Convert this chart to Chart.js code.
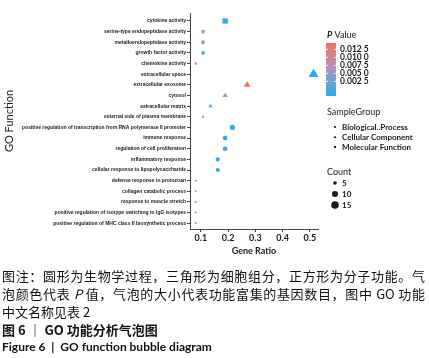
<!DOCTYPE html>
<html>
<head>
<meta charset="utf-8">
<script src="https://cdn.jsdelivr.net/npm/chart.js@4"></script>
<style>
  html, body { margin: 0; padding: 0; background: #fff; }
  #wrap { position: relative; width: 429px; height: 358px; overflow: hidden; }
  canvas { position: absolute; left: 0; top: 0; }
  .cap { position: absolute; left: 2px; white-space: nowrap; color: #111; }
  .zh { font-family: "Noto Sans CJK SC", sans-serif; font-size: 13px; line-height: 17px; }
  .just { width: 423px; text-align: justify; text-align-last: justify; white-space: normal; }
  .b { font-weight: bold; }
  .en { font-family: Lato, "Open Sans", sans-serif; font-size: 12px; line-height: 15px; font-weight: bold; }
</style>
</head>
<body>
<div id="wrap">
  <canvas id="c" width="429" height="358"></canvas>
  <div class="cap zh just" style="top:267px">图注：圆形为生物学过程，三角形为细胞组分，正方形为分子功能。气</div>
  <div class="cap zh just" style="top:285px">泡颜色代表 <i>P</i> 值，气泡的大小代表功能富集的基因数目，图中 GO 功能</div>
  <div class="cap zh" style="top:303px">中文名称见表 2</div>
  <div class="cap zh b" style="top:321px">图 6 ｜ GO 功能分析气泡图</div>
  <div class="cap en" style="top:339px">Figure 6 &nbsp;|&nbsp; GO function bubble diagram</div>
</div>
<script>
// ---------- data ----------
const categories = [
  'cytokine activity',
  'serine-type endopeptidase activity',
  'metalloendopeptidase activity',
  'growth factor activity',
  'chemokine activity',
  'extracellular space',
  'extracellular exosome',
  'cytosol',
  'extracellular matrix',
  'external side of plasma membrane',
  'positive regulation of transcription from RNA polymerase II promoter',
  'immune response',
  'regulation of cell proliferation',
  'inflammatory response',
  'cellular response to lipopolysaccharide',
  'defense response to protozoan',
  'collagen catabolic process',
  'response to muscle stretch',
  'positive regulation of isotype switching to IgG isotypes',
  'positive regulation of MHC class II biosynthetic process'
];
const sampleGroup = ['MF','MF','MF','MF','MF','CC','CC','CC','CC','CC',
                     'BP','BP','BP','BP','BP','BP','BP','BP','BP','BP'];
const geneRatio = [0.189, 0.108, 0.108, 0.108, 0.081, 0.514, 0.270, 0.189, 0.135, 0.108,
                   0.216, 0.189, 0.189, 0.162, 0.162, 0.081, 0.081, 0.081, 0.081, 0.081];
const geneCount = [7, 4, 4, 4, 3, 19, 10, 7, 5, 4,
                   8, 7, 7, 6, 6, 3, 3, 3, 3, 3];
const pValue = [0.0012, 0.0080, 0.0050, 0.0030, 0.0070, 0.0002, 0.0145, 0.0100, 0.0010, 0.0055,
                0.0006, 0.0004, 0.0008, 0.0003, 0.0005, 0.0015, 0.0020, 0.0010, 0.0012, 0.0018];
const xTicks = [0.1, 0.2, 0.3, 0.4, 0.5];
const pTickLabels = ['0.012 5', '0.010 0', '0.007 5', '0.005 0', '0.002 5'];
const groupNames = ['Biological..Process', 'Cellular Component', 'Molecular Function'];
const groupKeys = ['BP', 'CC', 'MF'];
const countLegend = [5, 10, 15];

// ---------- styling helpers ----------
const LOW = [41, 174, 230], MID = [172, 150, 190], HIGH = [243, 115, 94];
const pMin = Math.min(...pValue), pMax = Math.max(...pValue);
function mix(a, b, t) { return a.map((v, i) => Math.round(v + (b[i] - v) * t)); }
function colorAt(t) {
  t = Math.max(0, Math.min(1, t));
  const c = t < 0.5 ? mix(LOW, MID, t / 0.5) : mix(MID, HIGH, (t - 0.5) / 0.5);
  return 'rgb(' + c.join(',') + ')';
}
function pColor(p) { return colorAt((p - pMin) / (pMax - pMin)); }
function diam(c) { return Math.sqrt(4 + 4.5 * (c - 3)); }
const styleOf = { BP: 'circle', CC: 'triangle', MF: 'rect' };
function radiusFor(style, c) {
  const d = diam(c);
  if (style === 'circle') return d / 2;
  if (style === 'rect') return d * 1.15 / 1.414;
  return d * 1.15 / 1.732;
}

function buildDataset(key) {
  const idx = categories.map((_, i) => i).filter(i => sampleGroup[i] === key);
  const style = styleOf[key];
  return {
    label: key,
    data: idx.map(i => ({ x: geneRatio[i], y: i, p: pValue[i], n: geneCount[i] })),
    pointStyle: style,
    pointRadius: ctx => radiusFor(style, ctx.raw.n),
    pointBackgroundColor: ctx => pColor(ctx.raw.p),
    pointBorderWidth: 0,
    pointBorderColor: 'rgba(0,0,0,0)'
  };
}

const TXT = '#1a1a1a';
const legendPlugin = {
  id: 'goLegend',
  afterDraw(chart) {
    const ctx = chart.ctx;
    ctx.save();
    ctx.fillStyle = TXT;
    ctx.textBaseline = 'middle';
    ctx.textAlign = 'left';
    // P Value title
    ctx.font = 'italic bold 9px Lato, sans-serif';
    ctx.fillText('P', 327, 35);
    const pw = ctx.measureText('P').width;
    ctx.font = '9px Lato, sans-serif';
    ctx.fillText(' Value', 327 + pw, 35);
    // color bar
    const bx = 326, bw = 10, by0 = 43, by1 = 96;
    const labY = [49, 57, 65, 73, 81];
    for (let y = by0; y < by1; y++) {
      ctx.fillStyle = colorAt(1 - (y + 0.5 - by0) / (by1 - by0));
      ctx.fillRect(bx, y, bw, 1);
    }
    ctx.strokeStyle = 'rgba(255,255,255,0.9)';
    ctx.lineWidth = 1;
    labY.forEach(y => {
      ctx.beginPath();
      ctx.moveTo(bx, y + 0.5); ctx.lineTo(bx + 2, y + 0.5);
      ctx.moveTo(bx + bw - 2, y + 0.5); ctx.lineTo(bx + bw, y + 0.5);
      ctx.stroke();
    });
    ctx.fillStyle = TXT;
    ctx.font = 'bold 8.5px Lato, sans-serif';
    pTickLabels.forEach((t, i) => ctx.fillText(t, 340, labY[i]));
    // SampleGroup
    ctx.font = '9px Lato, sans-serif';
    ctx.fillText('SampleGroup', 327, 112);
    ctx.font = 'bold 8px Lato, sans-serif';
    const gy = [127, 137, 147];
    groupNames.forEach((t, i) => {
      const y = gy[i];
      ctx.fillStyle = TXT;
      const s = styleOf[groupKeys[i]];
      ctx.beginPath();
      if (s === 'circle') { ctx.arc(335, y, 1.1, 0, Math.PI * 2); }
      else if (s === 'triangle') { ctx.moveTo(335, y - 1.6); ctx.lineTo(336.5, y + 1); ctx.lineTo(333.5, y + 1); ctx.closePath(); }
      else { ctx.rect(334, y - 1, 2, 2); }
      ctx.fill();
      ctx.fillText(t, 342, y);
    });
    // Count
    ctx.font = '9px Lato, sans-serif';
    ctx.fillText('Count', 327, 172);
    ctx.font = 'bold 8px Lato, sans-serif';
    const cy = [183, 194, 205];
    countLegend.forEach((c, i) => {
      ctx.beginPath();
      ctx.arc(335, cy[i], diam(c) / 2, 0, Math.PI * 2);
      ctx.fill();
      ctx.fillText(String(c), 342, cy[i]);
    });
    ctx.restore();
  }
};

new Chart(document.getElementById('c'), {
  type: 'scatter',
  data: { datasets: groupKeys.map(buildDataset) },
  options: {
    responsive: false,
    animation: false,
    events: [],
    layout: { padding: { left: 0, top: 13, right: 111, bottom: 100 } },
    plugins: { legend: { display: false }, tooltip: { enabled: false } },
    scales: {
      x: {
        type: 'linear', min: 0.06, max: 0.53,
        afterBuildTicks: s => { s.ticks = xTicks.map(v => ({ value: v })); },
        afterFit: s => { s.height = 29; },
        grid: { display: true, drawOnChartArea: false, drawTicks: true, tickLength: 3, color: '#444', lineWidth: 1 },
        border: { display: true, color: '#444', width: 1 },
        ticks: { maxRotation: 0, padding: 1, color: TXT, font: { family: 'Lato, sans-serif', size: 9, weight: 'bold' },
                 callback: v => String(v) },
        title: { display: true, text: 'Gene Ratio', color: TXT, padding: { top: 0, bottom: 2 },
                 font: { family: 'Lato, sans-serif', size: 9, weight: 'bold' } }
      },
      y: {
        type: 'linear', reverse: true, min: -0.75, max: 19.54,
        afterBuildTicks: s => { s.ticks = categories.map((_, i) => ({ value: i })); },
        afterFit: s => { s.width = 190; },
        grid: { display: true, drawOnChartArea: false, drawTicks: true, tickLength: 3, color: '#444', lineWidth: 1 },
        border: { display: true, color: '#444', width: 1 },
        ticks: { autoSkip: false, padding: 1, color: TXT,
                 font: { family: "'Liberation Sans', Arial, sans-serif", size: 5, weight: 'bold' },
                 callback: v => categories[v] },
        title: { display: true, text: 'GO Function', color: TXT, padding: { top: 3, bottom: 0 },
                 font: { family: 'Lato, sans-serif', size: 11 } }
      }
    }
  },
  plugins: [legendPlugin]
});
</script>
</body>
</html>
